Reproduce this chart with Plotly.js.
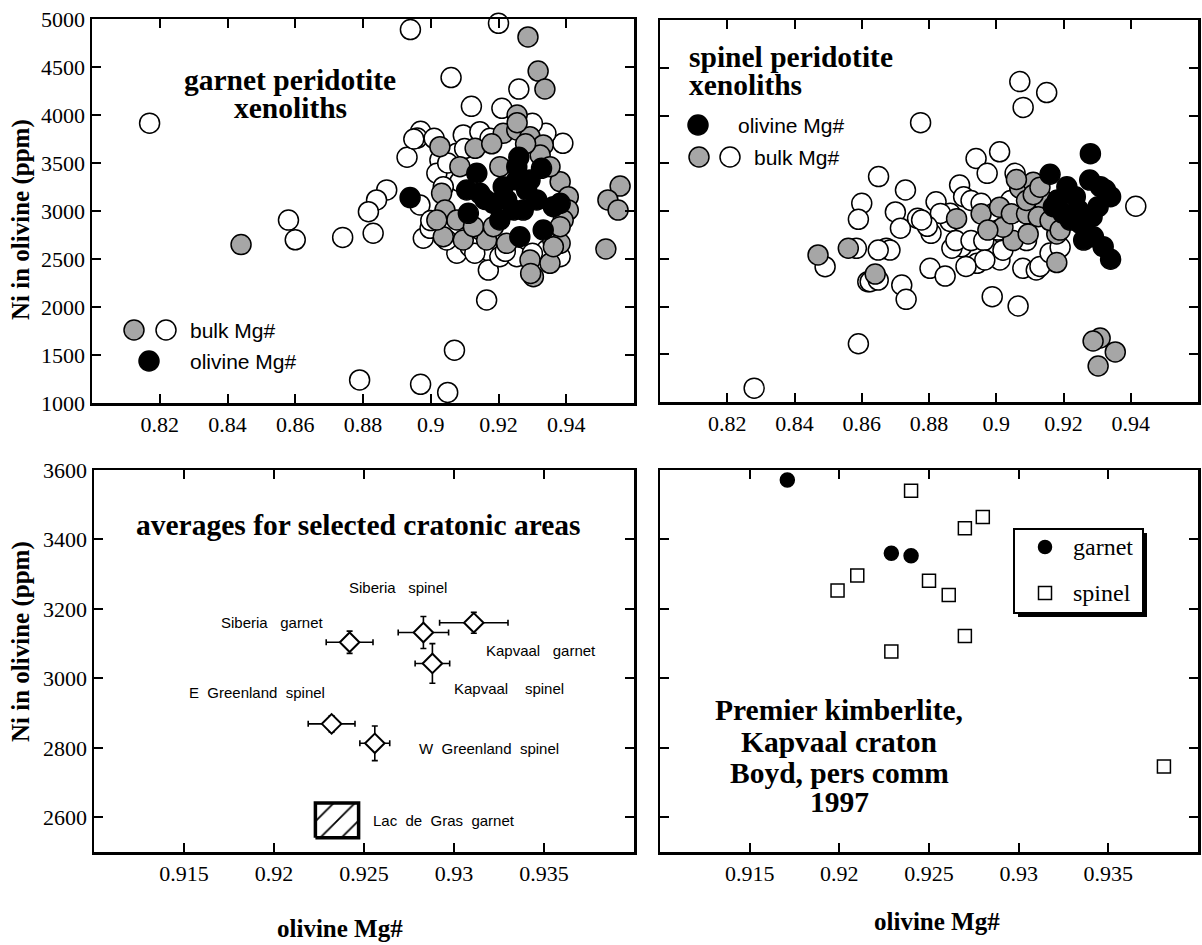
<!DOCTYPE html>
<html>
<head>
<meta charset="utf-8">
<script src="https://cdn.plot.ly/plotly-3.0.1.min.js"></script>
<style>html,body{margin:0;padding:0;background:#fff;}#chart{width:1202px;height:945px;}</style>
</head>
<body>
<div id="chart"></div>
<script>
// ---------- Panel 1: garnet peridotite xenoliths ----------
const p1BulkOpenMg = [0.817,0.894,0.920,0.906,0.926,0.912,0.921,0.897,0.896,0.893,0.901,0.9096,0.9145,0.9175,0.939,0.934,0.930,0.887,0.884,0.8816,0.883,0.874,0.858,0.860,0.8968,0.8978,0.8998,0.9027,0.9018,0.9077,0.9086,0.9037,0.9175,0.917,0.9165,0.9077,0.9204,0.9254,0.9342,0.9382,0.9047,0.9116,0.907,0.879,0.897,0.905,0.913,0.922,0.930,0.936,0.900,0.905,0.910,0.895];
const p1BulkOpenNi = [3915,4890,4955,4390,4270,4090,4070,3830,3760,3560,3757,3792,3826,3757,3705,3809,3913,3220,3115,2993,2768,2725,2905,2700,3063,2716,2820,3531,3393,3601,3305,3253,2576,2385,2073,2560,2524,2524,2594,2524,2698,2628,1550,1240,1195,1110,2560,2580,2560,2700,2900,3500,3650,3750];
const p1BulkGreyMg = [0.844,0.9287,0.9317,0.9337,0.9255,0.9559,0.9523,0.9553,0.9517,0.9027,0.9131,0.9086,0.9214,0.9254,0.9293,0.9332,0.9323,0.9032,0.9042,0.9382,0.9406,0.9406,0.9391,0.9037,0.9096,0.9165,0.9224,0.9382,0.9293,0.9303,0.9352,0.9362,0.9077,0.9126,0.9185,0.9018,0.9204,0.9352,0.9382,0.9295,0.9255,0.928,0.918];
const p1BulkGreyNi = [2650,4813,4458,4271,4000,3260,3115,3010,2604,3670,3653,3462,3809,3844,3774,3688,3583,3184,3010,3305,3149,3010,2906,2732,2698,2698,2663,2663,2490,2316,2455,2628,2906,2837,2837,2906,3462,3462,2837,2350,3920,3700,3700];
const p1OlMg = [0.8939,0.9136,0.9106,0.9111,0.9145,0.9254,0.9327,0.9214,0.9283,0.9362,0.9332,0.9263,0.9204,0.9244,0.9313,0.9185,0.9273,0.9224,0.9254,0.9293,0.9382,0.926,0.916];
const p1OlNi = [3140,3393,3219,2976,3184,3462,3445,3253,3219,3045,2802,2732,2906,3010,3115,3080,3010,3115,3323,3323,3080,3560,3120];

// ---------- Panel 2: spinel peridotite xenoliths ----------
const p2BulkOpenMg = [0.828,0.859,0.907,0.915,0.908,0.8775,0.9415,0.901,0.894,0.865,0.873,0.860,0.859,0.870,0.8715,0.8766,0.8806,0.8821,0.8863,0.8863,0.8891,0.8903,0.8925,0.8973,0.9056,0.8897,0.8868,0.8943,0.9011,0.9079,0.9119,0.8988,0.9065,0.8803,0.8848,0.8719,0.8732,0.8673,0.8618,0.8641,0.8584,0.8491,0.888,0.8925,0.8963,0.902,0.902,0.909,0.8966,0.891,0.8955,0.899,0.9068,0.9043,0.9006,0.913,0.916,0.919,0.8834,0.8795,0.8778,0.8684,0.8649,0.8625,0.8649];
const p2BulkOpenNi = [1145,1610,4355,4240,4085,3925,3050,3620,3550,3360,3220,3080,2913,2990,2820,2923,2766,3097,2976,2890,3272,3150,3110,3394,3394,2626,2610,2452,2487,2400,2382,2103,2005,2400,2319,2225,2075,2609,2260,2310,2609,2417,2690,2690,2690,2760,2590,2690,2487,2420,3080,2970,3180,3110,2800,2420,2560,2620,2975,2840,2906,2591,2591,2260,2277];
const p2BulkGreyMg = [0.847,0.856,0.864,0.9309,0.9288,0.9354,0.9303,0.8882,0.8955,0.901,0.907,0.911,0.914,0.918,0.918,0.905,0.9095,0.902,0.8975,0.9045,0.909,0.9125,0.916,0.919,0.909,0.911,0.906,0.913];
const p2BulkGreyNi = [2540,2610,2340,1670,1639,1524,1377,2920,2970,3040,3240,3300,3110,2760,2460,2690,2760,2830,2800,2970,2970,2940,2900,2800,3110,3170,3330,3250];
const p2OlMg = [0.928,0.916,0.934,0.9318,0.9289,0.926,0.921,0.9182,0.9278,0.9325,0.934,0.9303,0.9245,0.9199,0.925,0.922,0.9285,0.931,0.9235,0.917];
const p2OlNi = [3600,3385,2495,2626,2730,2696,3254,3115,3324,3220,3150,3045,3010,2975,2870,2905,2940,3255,3150,3045];

// ---------- Panel 3: averages for selected cratonic areas ----------
const avgNames = ['Siberia garnet','Siberia spinel','Kapvaal garnet','Kapvaal spinel','E Greenland spinel','W Greenland spinel'];
const avgMg = [0.9242,0.9283,0.9311,0.9288,0.9232,0.9256];
const avgNi = [3104,3132,3160,3043,2869,2813];
const avgMgErr = [0.0013,0.0014,0.0019,0.00096,0.0013,0.00083];
const avgNiErr = [32,46,30,57,23,50];
const lacMg = [0.9223,0.9247];
const lacNi = [2541,2641];

// ---------- Panel 4: Premier kimberlite ----------
const premGarnetMg = [0.9171,0.9229,0.9240];
const premGarnetNi = [3571,3360,3353];
const premSpinelMg = [0.9240,0.9280,0.9270,0.9210,0.9199,0.9250,0.9261,0.9270,0.9229,0.9381];
const premSpinelNi = [3540,3465,3432,3296,3253,3281,3240,3122,3077,2746];

// ---------- tick labels ----------
const topTickVals = [0.82,0.84,0.86,0.88,0.90,0.92,0.94];
const topTickText = ['0.82','0.84','0.86','0.88','0.9','0.92','0.94'];
const botTickVals = [0.915,0.92,0.925,0.93,0.935];
const botTickText = ['0.915','0.92','0.925','0.93','0.935'];
const topYTicks = [1000,1500,2000,2500,3000,3500,4000,4500,5000];
const botYTicks = [2600,2800,3000,3200,3400,3600];

const W = 1202, H = 945;
const px = x => x / W;
const py = y => 1 - y / H;
const serif = 'Liberation Serif';
const sans = 'Liberation Sans';
const GREY = '#a6a6a6';

function axis(domain, range, vals, text, showLabels, anchor) {
  return {
    domain: domain, range: range, anchor: anchor,
    tickmode: 'array', tickvals: vals, ticktext: text,
    showticklabels: showLabels,
    ticks: 'inside', ticklen: 9, tickwidth: 2, tickcolor: 'black',
    showline: true, linewidth: 2.5, linecolor: 'black', mirror: 'ticks',
    showgrid: false, zeroline: false, fixedrange: true,
    tickfont: {family: serif, size: 22, color: 'black'}
  };
}

const bigCirc = 20, lw = 1.5;
function pts(x, y, xa, ya, fill, size, symbol) {
  return {x: x, y: y, xaxis: xa, yaxis: ya, type: 'scatter', mode: 'markers',
    marker: {symbol: symbol || 'circle', size: size, color: fill, line: {color: 'black', width: lw}},
    hoverinfo: 'skip', showlegend: false, cliponaxis: false};
}

const traces = [
  pts(p1BulkOpenMg, p1BulkOpenNi, 'x', 'y', 'white', bigCirc),
  pts(p1BulkGreyMg, p1BulkGreyNi, 'x', 'y', GREY, bigCirc),
  pts(p1OlMg, p1OlNi, 'x', 'y', 'black', bigCirc),
  pts(p2BulkOpenMg, p2BulkOpenNi, 'x2', 'y2', 'white', bigCirc),
  pts(p2BulkGreyMg, p2BulkGreyNi, 'x2', 'y2', GREY, bigCirc),
  pts(p2OlMg, p2OlNi, 'x2', 'y2', 'black', bigCirc),
  {x: [lacMg[0], lacMg[1], lacMg[1], lacMg[0], lacMg[0]],
   y: [lacNi[0], lacNi[0], lacNi[1], lacNi[1], lacNi[0]],
   xaxis: 'x3', yaxis: 'y3', type: 'scatter', mode: 'lines', fill: 'toself',
   fillcolor: 'white',
   fillpattern: {shape: '/', size: 15, solidity: 0.12, fgcolor: 'black', bgcolor: 'white'},
   line: {color: 'black', width: 3.5}, hoverinfo: 'skip', showlegend: false},
  {x: avgMg, y: avgNi, text: avgNames, xaxis: 'x3', yaxis: 'y3', type: 'scatter', mode: 'markers',
   marker: {symbol: 'diamond', size: 15, color: 'white', line: {color: 'black', width: 2}},
   error_x: {type: 'data', array: avgMgErr, visible: true, color: 'black', thickness: 1.6, width: 3},
   error_y: {type: 'data', array: avgNiErr, visible: true, color: 'black', thickness: 1.6, width: 3},
   hoverinfo: 'skip', showlegend: false},
  pts(premSpinelMg, premSpinelNi, 'x4', 'y4', 'white', 13, 'square'),
  pts(premGarnetMg, premGarnetNi, 'x4', 'y4', 'black', 14)
];

function circ(cx, cy, d, fill) {
  return {type: 'circle', xref: 'paper', yref: 'paper', xsizemode: 'pixel', ysizemode: 'pixel',
    xanchor: px(cx), yanchor: py(cy), x0: -d/2, x1: d/2, y0: -d/2, y1: d/2,
    fillcolor: fill, line: {color: 'black', width: 1.5}, layer: 'above'};
}
function sq(cx, cy, d) {
  return {type: 'rect', xref: 'paper', yref: 'paper', xsizemode: 'pixel', ysizemode: 'pixel',
    xanchor: px(cx), yanchor: py(cy), x0: -d/2, x1: d/2, y0: -d/2, y1: d/2,
    fillcolor: 'white', line: {color: 'black', width: 1.5}, layer: 'above'};
}
function rect(x0, y0, x1, y1, fill, lwid) {
  return {type: 'rect', xref: 'paper', yref: 'paper', x0: px(x0), x1: px(x1), y0: py(y1), y1: py(y0),
    fillcolor: fill, line: {color: 'black', width: lwid}, layer: 'above'};
}

const shapes = [
  circ(134, 330, 20, GREY), circ(166, 330, 20, 'white'), circ(149, 361, 20, 'black'),
  circ(698, 125, 20, 'black'), circ(699, 157, 20, GREY), circ(730, 157, 20, 'white'),
  rect(1018, 533, 1147, 617, 'black', 0),
  rect(1014, 529, 1143, 613, 'white', 2),
  circ(1045, 547, 13, 'black'), sq(1045, 593, 13)
];

function ann(text, x, y, font, xanchor, extra) {
  return Object.assign({text: text, xref: 'paper', yref: 'paper', x: px(x), y: py(y),
    xanchor: xanchor || 'center', yanchor: 'middle', showarrow: false, font: font}, extra || {});
}
const boldF = s => ({family: serif, size: s, color: 'black', weight: 'bold'});
const sansF = s => ({family: sans, size: s, color: 'black'});
const serifF = s => ({family: serif, size: s, color: 'black'});
const nb = '\u00a0';

const annotations = [
  ann('<b>garnet peridotite</b>', 290, 80, boldF(29.5)),
  ann('<b>xenoliths</b>', 290, 108, boldF(29.5)),
  ann('bulk Mg#', 188, 330, sansF(21), 'left'),
  ann('olivine Mg#', 188, 361, sansF(21), 'left'),
  ann('<b>spinel peridotite</b>', 687, 57, boldF(29.5), 'left'),
  ann('<b>xenoliths</b>', 687, 85, boldF(29.5), 'left'),
  ann('olivine Mg#', 736, 125, sansF(21), 'left'),
  ann('bulk Mg#', 752, 157, sansF(21), 'left'),
  ann('<b>averages for selected cratonic areas</b>', 358, 525, boldF(29.5)),
  ann('Siberia' + nb+nb+nb + 'spinel', 347, 587, sansF(15), 'left'),
  ann('Siberia' + nb+nb+nb + 'garnet', 219, 622, sansF(15), 'left'),
  ann('Kapvaal' + nb+nb+nb + 'garnet', 484, 650, sansF(15), 'left'),
  ann('Kapvaal' + nb+nb+nb+nb + 'spinel', 452, 688, sansF(15), 'left'),
  ann('E' + nb+nb + 'Greenland' + nb+nb + 'spinel', 187, 692, sansF(15), 'left'),
  ann('W' + nb+nb + 'Greenland' + nb+nb + 'spinel', 417, 748, sansF(15), 'left'),
  ann('Lac' + nb+nb + 'de' + nb+nb + 'Gras' + nb+nb + 'garnet', 371, 820, sansF(15), 'left'),
  ann('<b>Premier kimberlite,</b>', 839, 710, boldF(29.5)),
  ann('<b>Kapvaal craton</b>', 839, 742, boldF(29.5)),
  ann('<b>Boyd, pers comm</b>', 839, 773, boldF(29.5)),
  ann('<b>1997</b>', 839, 802, boldF(29.5)),
  ann('garnet', 1071, 547, serifF(24), 'left'),
  ann('spinel', 1071, 593, serifF(24), 'left'),
  ann('<b>Ni in olivine (ppm)</b>', 21, 220, boldF(25), 'center', {textangle: -90}),
  ann('<b>Ni in olivine (ppm)</b>', 21, 642, boldF(25), 'center', {textangle: -90}),
  ann('<b>olivine Mg#</b>', 340, 928, boldF(25)),
  ann('<b>olivine Mg#</b>', 937, 921, boldF(25))
];

const layout = {
  width: W, height: H,
  margin: {l: 0, r: 0, t: 0, b: 0},
  paper_bgcolor: 'white', plot_bgcolor: 'white',
  font: {family: serif, size: 22, color: 'black'},
  showlegend: false,
  xaxis: axis([px(92), px(634)], [0.80, 0.96], topTickVals, topTickText, true, 'y'),
  yaxis: axis([py(403), py(19)], [1000, 5000], topYTicks, topYTicks.map(String), true, 'x'),
  xaxis2: axis([px(660), px(1198)], [0.80, 0.96], topTickVals, topTickText, true, 'y2'),
  yaxis2: axis([py(402), py(20)], [1000, 5000], topYTicks, topYTicks.map(String), false, 'x2'),
  xaxis3: axis([px(94), px(634)], [0.91, 0.94], botTickVals, botTickText, true, 'y3'),
  yaxis3: axis([py(852), py(470)], [2500, 3600], botYTicks, botYTicks.map(String), true, 'x3'),
  xaxis4: axis([px(660), px(1198)], [0.91, 0.94], botTickVals, botTickText, true, 'y4'),
  yaxis4: axis([py(852), py(470)], [2500, 3600], botYTicks, botYTicks.map(String), false, 'x4'),
  shapes: shapes,
  annotations: annotations
};

Plotly.newPlot('chart', traces, layout, {staticPlot: true, displayModeBar: false});
</script>
</body>
</html>
